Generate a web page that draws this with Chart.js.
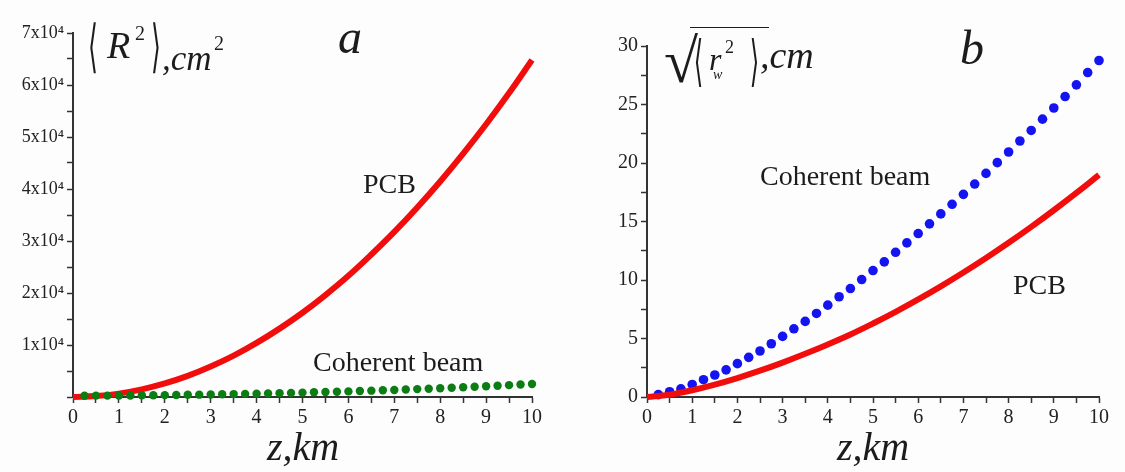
<!DOCTYPE html>
<html>
<head>
<meta charset="utf-8">
<script src="https://cdn.jsdelivr.net/npm/chart.js@4.4.1/dist/chart.umd.min.js"></script>
<style>
body { margin: 0; background: #fdfdfd; width: 1125px; height: 472px; overflow: hidden; position: relative;
       font-family: "Liberation Serif", "Times New Roman", serif; color: #1c1c1c; }
.painel { position: absolute; top: 0; height: 472px; }
.t { position: absolute; white-space: nowrap; line-height: 1; }
.i { font-style: italic; }
.br { font-family: "DejaVu Serif", "DejaVu Sans", serif; display: inline-block; transform: scale(0.55, 1.25); transform-origin: 50% 50%; }
.barra { position: absolute; border-top: 1.6px solid #1c1c1c; height: 0; }
</style>
</head>
<body>
<div class="painel" style="left:0;width:560px"><canvas id="grafico-a"></canvas></div>
<div class="painel" style="left:560px;width:565px"><canvas id="grafico-b"></canvas></div>
<div id="textos"></div>

<script>
// distancia z, km
const zLinha = [0, 0.5, 1, 1.5, 2, 2.5, 3, 3.5, 4, 4.5, 5, 5.5, 6, 6.5, 7, 7.5, 8, 8.5, 9, 9.5, 10];
const zPontos = [0.25, 0.5, 0.75, 1, 1.25, 1.5, 1.75, 2, 2.25, 2.5, 2.75, 3, 3.25, 3.5, 3.75, 4,
                 4.25, 4.5, 4.75, 5, 5.25, 5.5, 5.75, 6, 6.25, 6.5, 6.75, 7, 7.25, 7.5, 7.75, 8,
                 8.25, 8.5, 8.75, 9, 9.25, 9.5, 9.75, 10];

// painel a: <R^2>, cm^2
const pcbA = [0, 170, 650, 1460, 2600, 4050, 5850, 7950, 10400, 13150, 16200, 19600, 23300,
              27400, 31750, 36450, 41450, 46800, 52450, 58450, 64800];
const coerenteA = [250, 260, 270, 280, 300, 320, 340, 360, 390, 420, 450, 480, 520, 560, 600, 640,
                   690, 740, 790, 840, 900, 960, 1020, 1080, 1150, 1220, 1290, 1360, 1440, 1520, 1600, 1690,
                   1780, 1870, 1970, 2070, 2170, 2280, 2390, 2500];

// painel b: sqrt(<r_w^2>), cm
const pcbB = [0, 0.2, 0.58, 1.06, 1.62, 2.25, 2.94, 3.69, 4.49, 5.34, 6.28, 7.28, 8.34, 9.46,
              10.64, 11.88, 13.18, 14.54, 15.96, 17.44, 18.98];
const coerenteB = [0.2, 0.45, 0.7, 1.07, 1.48, 1.88, 2.32, 2.85, 3.39, 3.93, 4.55, 5.18, 5.83, 6.46,
                   7.14, 7.85, 8.57, 9.27, 10.04, 10.81, 11.55, 12.37, 13.17, 13.97, 14.8, 15.65, 16.47,
                   17.32, 18.2, 19.11, 20.03, 20.94, 21.88, 22.78, 23.75, 24.7, 25.68, 26.68, 27.73, 28.76];

const rotulosX = [0, 1, 2, 3, 4, 5, 6, 7, 8, 9, 10];
const rotulosYA = ['1x10⁴', '2x10⁴', '3x10⁴', '4x10⁴', '5x10⁴', '6x10⁴', '7x10⁴'];
const rotulosYB = [0, 5, 10, 15, 20, 25, 30];

const fonte = '"Liberation Serif", "Times New Roman", serif';
const corEixo = '#333';

function pares(xs, ys) {
    return xs.map((x, i) => ({ x: x, y: ys[i] }));
}

function eixo(opcoes) {
    return Object.assign({
        type: 'linear',
        grid: { drawOnChartArea: false, drawTicks: true, tickLength: 6, color: corEixo, tickColor: corEixo, tickWidth: 1.5 },
        border: { color: corEixo, width: 2 },
        ticks: { color: '#222', font: { family: fonte, size: 20 }, padding: 3, autoSkip: false, maxRotation: 0 }
    }, opcoes);
}

function criarGrafico(id, linha, pontos, corPontos, raio, yMax, yPasso, rotuloY, fonteY, larguraY, topo, direita) {
    const eixoX = eixo({ min: 0, max: 10, afterFit: s => { s.height = 75; } });
    eixoX.ticks.stepSize = 0.5;
    eixoX.ticks.callback = v => rotulosX.includes(v) ? String(v) : '';

    const eixoY = eixo({ min: 0, max: yMax, afterFit: s => { s.width = larguraY; } });
    eixoY.ticks.stepSize = yPasso;
    eixoY.ticks.callback = rotuloY;
    eixoY.ticks.font = { family: fonte, size: fonteY };

    const conjuntos = [
        { label: 'PCB', data: linha, showLine: true, borderColor: '#f20d0d', borderWidth: 6,
          pointRadius: 0, tension: 0.4, clip: false },
        { label: 'Coherent beam', data: pontos, showLine: false, backgroundColor: corPontos,
          borderWidth: 0, pointRadius: raio, clip: false }
    ];

    return new Chart(document.getElementById(id), {
        type: 'scatter',
        data: { datasets: id === 'grafico-a' ? conjuntos.reverse() : conjuntos },
        options: {
            responsive: true,
            maintainAspectRatio: false,
            animation: false,
            layout: { padding: { top: topo, right: direita, left: 0, bottom: 0 } },
            plugins: { legend: { display: false }, tooltip: { enabled: false } },
            scales: { x: eixoX, y: eixoY }
        }
    });
}

criarGrafico('grafico-a', pares(zLinha, pcbA), pares(zPontos, coerenteA), '#0b7d12', 4.2,
    70000, 5000, v => (v > 0 && v % 10000 === 0) ? rotulosYA[v / 10000 - 1] : '', 18, 73, 33, 28);

criarGrafico('grafico-b', pares(zLinha, pcbB), pares(zPontos, coerenteB), '#1414f0', 4.8,
    30, 2.5, v => rotulosYB.includes(v) ? String(v) : '', 20, 87, 46, 26);

// textos soltos (posicao pela linha de base)
const textos = document.getElementById('textos');
function poe(html, x, base, tam, classe, centro) {
    const el = document.createElement('div');
    el.className = 't ' + (classe || '');
    el.style.fontSize = tam + 'px';
    el.style.top = (base - 0.84 * tam) + 'px';
    el.innerHTML = html;
    textos.appendChild(el);
    el.style.left = (centro ? x - el.offsetWidth / 2 : x) + 'px';
    return el;
}

// titulo y do painel a
poe('<span class="br">⟨</span>', 84, 62, 46);
poe('R', 107, 58, 38, 'i');
poe('2', 135, 40, 20);
poe('<span class="br">⟩</span>', 147, 62, 46);
poe(',cm', 162, 70, 35, 'i');
poe('2', 214, 50, 20);

// titulo y do painel b
poe('√', 664, 82, 62);
const barra = document.createElement('div');
barra.className = 'barra';
barra.style.left = '690px'; barra.style.top = '27px'; barra.style.width = '79px';
textos.appendChild(barra);
poe('<span class="br">⟨</span>', 690, 76, 44);
poe('r', 709, 70, 32, 'i');
poe('2', 725, 53, 18);
poe('w', 713, 80, 14, 'i');
poe('<span class="br">⟩</span>', 746, 76, 44);
poe(',cm', 760, 68, 38, 'i');

// letras dos paineis
poe('a', 338, 53, 48, 'i');
poe('b', 960, 64, 48, 'i');

// rotulos das curvas
poe('PCB', 363, 194, 28);
poe('Coherent beam', 313, 372, 28);
poe('Coherent beam', 760, 186, 28);
poe('PCB', 1013, 295, 28);

// titulos x
poe('z,km', 303, 461, 40, 'i', true);
poe('z,km', 873, 461, 40, 'i', true);
</script>
</body>
</html>
